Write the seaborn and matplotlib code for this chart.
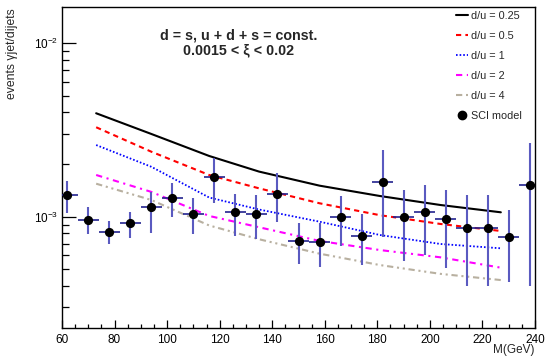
import numpy as np
import pandas as pd
import matplotlib
matplotlib.use("Agg")
import matplotlib.pyplot as plt
import seaborn as sns
from matplotlib.lines import Line2D
from matplotlib.ticker import LogLocator, LogFormatterSciNotation, MultipleLocator, NullFormatter

# ---------------- data ----------------
curve_x = [73, 94, 116, 135, 158, 181, 204, 227]
du_025 = [3.95e-3, 3.00e-3, 2.24e-3, 1.82e-3, 1.51e-3, 1.316e-3, 1.168e-3, 1.06e-3]
du_05 = [3.28e-3, 2.37e-3, 1.74e-3, 1.457e-3, 1.195e-3, 1.02e-3, 0.908e-3, 0.827e-3]
du_1 = [2.59e-3, 1.94e-3, 1.29e-3, 1.10e-3, 0.936e-3, 0.784e-3, 0.696e-3, 0.657e-3]
du_2 = [1.74e-3, 1.39e-3, 1.01e-3, 0.869e-3, 0.725e-3, 0.642e-3, 0.583e-3, 0.508e-3]
du_4 = [1.55e-3, 1.248e-3, 0.89e-3, 0.741e-3, 0.612e-3, 0.526e-3, 0.468e-3, 0.431e-3]
curve_labels = ["d/u = 0.25", "d/u = 0.5", "d/u = 1", "d/u = 2", "d/u = 4"]

sci_x = [62, 70, 78, 86, 94, 102, 110, 118, 126, 134, 142, 150,
         158, 166, 174, 182, 190, 198, 206, 214, 222, 230, 238]
sci_y = [1.334e-3, 0.957e-3, 0.819e-3, 0.916e-3, 1.142e-3, 1.287e-3, 1.04e-3, 1.70e-3,
         1.064e-3, 1.04e-3, 1.357e-3, 0.727e-3, 0.712e-3, 0.996e-3, 0.777e-3, 1.59e-3,
         0.992e-3, 1.064e-3, 0.97e-3, 0.864e-3, 0.864e-3, 0.76e-3, 1.52e-3]
sci_hi = [1.61e-3, 1.13e-3, 0.948e-3, 1.07e-3, 1.38e-3, 1.57e-3, 1.276e-3, 2.17e-3,
          1.35e-3, 1.33e-3, 1.78e-3, 0.924e-3, 0.916e-3, 1.32e-3, 1.036e-3, 2.42e-3,
          1.425e-3, 1.52e-3, 1.425e-3, 1.33e-3, 1.33e-3, 1.10e-3, 2.65e-3]
sci_lo = [1.05e-3, 0.79e-3, 0.693e-3, 0.75e-3, 0.80e-3, 0.99e-3, 0.795e-3, 1.20e-3,
          0.777e-3, 0.744e-3, 0.928e-3, 0.534e-3, 0.515e-3, 0.678e-3, 0.527e-3, 0.767e-3,
          0.557e-3, 0.601e-3, 0.508e-3, 0.40e-3, 0.40e-3, 0.422e-3, 0.40e-3]
bin_half = 4

# ---------------- style ----------------
sns.set_style("ticks")
plt.rcParams["font.family"] = ["Liberation Sans", "DejaVu Sans"]
plt.rcParams["mathtext.fontset"] = "custom"
plt.rcParams["mathtext.rm"] = "Liberation Sans"
plt.rcParams["mathtext.it"] = "Liberation Sans:italic"
plt.rcParams["mathtext.bf"] = "Liberation Sans:bold"

fig = plt.figure(figsize=(5.46, 3.56), dpi=100)
ax = fig.add_axes([62 / 546, 1 - 328 / 356, (535 - 62) / 546, (328 - 7) / 356])

styles = [
    dict(color="black", lw=1.5, ls="-"),
    dict(color="#ff0000", lw=1.5, ls=(0, (2.5, 2))),
    dict(color="#0000ff", lw=1.3, ls=(0, (0.9, 1.1))),
    dict(color="#ff00ff", lw=1.5, ls=(0, (3, 2.2, 1, 2.2))),
    dict(color="#b8b0a0", lw=1.5, ls=(0, (3, 1.8, 1, 1.8, 1, 1.8))),
]
curves = [du_025, du_05, du_1, du_2, du_4]
handles = []
for yv, lab, st in zip(curves, curve_labels, styles):
    df = pd.DataFrame({"M": curve_x, "v": yv})
    sns.lineplot(data=df, x="M", y="v", ax=ax, color=st["color"], lw=st["lw"],
                 linestyle=st["ls"], legend=False)
    handles.append(Line2D([], [], color=st["color"], lw=st["lw"], linestyle=st["ls"], label=lab))

sx = np.array(sci_x, float)
sy = np.array(sci_y)
yerr = [sy - np.array(sci_lo), np.array(sci_hi) - sy]
ax.errorbar(sx, sy, yerr=yerr, fmt="none", ecolor="#5a5ac0", elinewidth=1.5, capsize=0, zorder=3)
ax.errorbar(sx, sy, xerr=bin_half, fmt="none", ecolor="#22228f", elinewidth=1.2, capsize=0, zorder=3)
dfp = pd.DataFrame({"M": sx, "v": sy})
sns.scatterplot(data=dfp, x="M", y="v", ax=ax, color="black", s=44, edgecolor="black",
                linewidth=0, zorder=4, legend=False)
handles.append(Line2D([], [], color="black", marker="o", ls="none", markersize=6, label="SCI model"))

ax.set_yscale("log")
ax.set_xlim(60, 240)
ax.set_ylim(2.28e-4, 1.62e-2)
ax.xaxis.set_major_locator(MultipleLocator(20))
ax.xaxis.set_minor_locator(MultipleLocator(5))
ax.yaxis.set_major_locator(LogLocator(base=10))
ax.yaxis.set_major_formatter(LogFormatterSciNotation())
ax.yaxis.set_minor_locator(LogLocator(base=10, subs=np.arange(2, 10)))
ax.yaxis.set_minor_formatter(NullFormatter())
ax.tick_params(axis="both", which="both", direction="in", top=False, right=False,
               labelsize=8.5, width=0.9, colors="black")
ax.tick_params(axis="x", which="major", length=5.8, pad=4)
ax.tick_params(axis="x", which="minor", length=2.9)
ax.tick_params(axis="y", which="major", length=10, pad=3)
ax.tick_params(axis="y", which="minor", length=5)
for sp in ax.spines.values():
    sp.set_linewidth(1.0)
    sp.set_color("black")
ax.set_xlabel("")
ax.set_ylabel("")

fig.text(535 / 546, 1 - 350 / 356, "M(GeV)", ha="right", va="center", fontsize=8.5)
fig.text(12.5 / 546, 1 - 8 / 356, "events γjet/dijets", ha="center", va="top",
         rotation=90, fontsize=8.8)
fig.text(239 / 546, 1 - 35 / 356, "d = s, u + d + s = const.", ha="center", va="center",
         fontsize=10.3, fontweight="bold")
fig.text(239 / 546, 1 - 50 / 356, "0.0015 < ξ < 0.02", ha="center", va="center",
         fontsize=10.3, fontweight="bold")

ax.legend(handles=handles, loc="upper left", bbox_to_anchor=(456 / 546, 1 - 11 / 356),
          bbox_transform=fig.transFigure, frameon=False, fontsize=7.8, borderpad=0,
          borderaxespad=0, handlelength=1.15, handletextpad=0.25, labelspacing=0.92)

fig.savefig("out.png", dpi=100)
